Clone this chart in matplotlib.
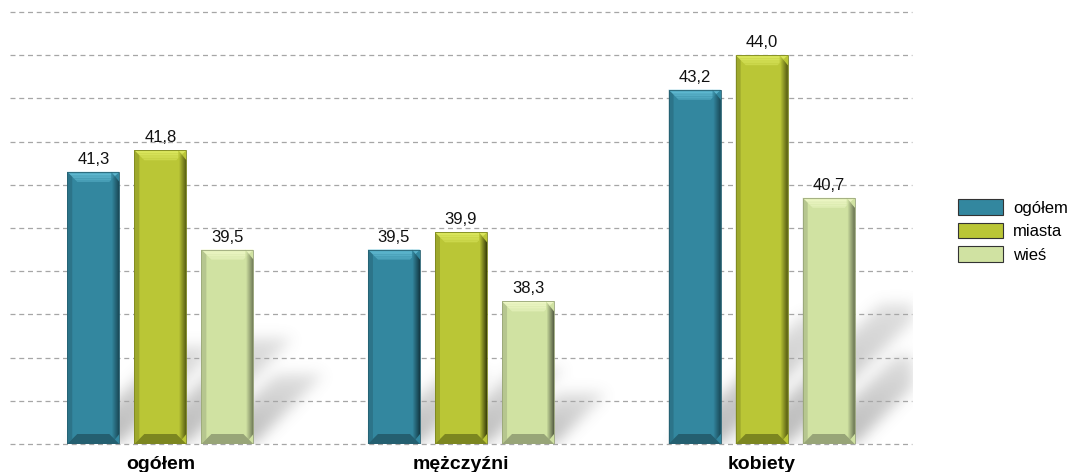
import matplotlib
matplotlib.use("Agg")
import matplotlib.pyplot as plt
import matplotlib.colors as mcolors
import numpy as np
from matplotlib.patches import Polygon, Patch
from matplotlib.path import Path

categories = ["ogółem", "mężczyźni", "kobiety"]
series_names = ["ogółem", "miasta", "wieś"]
ogolem = [41.3, 39.5, 43.2]
miasta = [41.8, 39.9, 44.0]
wies = [39.5, 38.3, 40.7]
series = [ogolem, miasta, wies]
colors = ["#33879F", "#BAC636", "#D0E2A2"]
light = ["#62BCD4", "#DCE860", "#EEF7C6"]
dark = ["#143A45", "#3F440A", "#565E44"]
mid_dark = ["#245F70", "#7C8620", "#98A578"]

W, H = 1078, 472
fig = plt.figure(figsize=(W / 100, H / 100), dpi=100)
ax_l, ax_r, ax_t, ax_b = 10, 912, 12, 444
AW, AH = ax_r - ax_l, ax_b - ax_t
ax = fig.add_axes([ax_l / W, 1 - ax_b / H, AW / W, AH / H])
ymin, ymax = 35, 45
xmin, xmax = -0.5, 2.5
ax.set_xlim(xmin, xmax)
ax.set_ylim(ymin, ymax)
for s in ax.spines.values():
    s.set_visible(False)
ax.set_yticks(np.arange(35, 45.1, 1))
ax.yaxis.grid(True, linestyle=(0, (4, 3)), color="#A6A6A6", linewidth=0.9, zorder=1)
ax.set_axisbelow(True)
ax.tick_params(axis="y", left=False, labelleft=False)
ax.tick_params(axis="x", bottom=False, pad=5)
x = np.arange(len(categories))
ax.set_xticks(x)
ax.set_xticklabels(categories, fontsize=14, fontweight="bold", family="Liberation Sans")

dx = (xmax - xmin) / AW
dy = (ymax - ymin) / AH

step = 0.223
width = 0.173
offsets = [-step, 0, step]

# ---- soft cast shadow (decoration derived from bar geometry) ----
gy, gx = np.mgrid[0:AH, 0:AW]
pts = np.column_stack([gx.ravel() + 0.5, gy.ravel() + 0.5])
mask = np.zeros(AH * AW)
for si, vals in enumerate(series):
    for xi, v in zip(x, vals):
        bx0 = (xi + offsets[si] - width / 2 - xmin) / dx
        bx1 = bx0 + width / dx
        hpx = (v - ymin) / dy
        hs = 0.36 * hpx
        sk = 1.0 * hs
        poly = Path([(bx0 + 4, 0), (bx1, 0), (bx1 + sk, hs), (bx0 + 4 + sk, hs)])
        inside = poly.contains_points(pts)
        fade = np.clip(1 - (pts[:, 1] / hs) * 0.55, 0, 1)
        mask = np.maximum(mask, inside * fade)
mask = mask.reshape(AH, AW)

def blur(a, sigma):
    r = int(3 * sigma)
    k = np.exp(-0.5 * (np.arange(-r, r + 1) / sigma) ** 2)
    k /= k.sum()
    a = np.apply_along_axis(lambda row: np.convolve(row, k, mode="same"), 1, a)
    a = np.apply_along_axis(lambda col: np.convolve(col, k, mode="same"), 0, a)
    return a

mask = blur(mask, 7)
rgba = np.zeros((AH, AW, 4))
rgba[..., :3] = 0.45
rgba[..., 3] = mask * 0.5
ax.imshow(rgba, extent=(xmin, xmax, ymin, ymax), origin="lower", aspect="auto",
          zorder=0.2, interpolation="bilinear")
ax.set_xlim(xmin, xmax)
ax.set_ylim(ymin, ymax)
for gl in ax.get_ygridlines():
    gl.set_clip_on(False)

bev = 10  # px
side = 8
for si, vals in enumerate(series):
    bars = ax.bar(x + offsets[si], vals, width=width, bottom=0, color=colors[si],
                  edgecolor="none", linewidth=0, zorder=3, label=series_names[si])
    for b, v in zip(bars, vals):
        bx0 = b.get_x()
        bx1 = bx0 + b.get_width()
        ytop = v
        yb = ymin
        bw = bev * dx
        bh = bev * dy
        n = 6
        for k in range(n):
            t = k / (n - 1)
            c = np.array(mcolors.to_rgb(light[si])) * (1 - 0.5 * t) + np.array(mcolors.to_rgb(colors[si])) * 0.5 * t
            f0, f1 = k / n, (k + 1) / n
            ax.add_patch(Polygon([(bx0 + bw * f0, ytop - bh * f0), (bx1 - bw * f0, ytop - bh * f0),
                                  (bx1 - bw * f1, ytop - bh * f1), (bx0 + bw * f1, ytop - bh * f1)],
                                 facecolor=c, edgecolor="none", zorder=4))
        n = 8
        for k in range(n):
            xa = bx1 - (k + 1) * dx * side / n
            xb = bx1 - k * dx * side / n
            t = k / (n - 1)
            c = np.array(mcolors.to_rgb(dark[si])) * (1 - t) + np.array(mcolors.to_rgb(colors[si])) * t
            ax.add_patch(Polygon([(xa, yb + bh * (1 - (k + 1) / n)), (xb, yb + bh * (1 - k / n)),
                                  (xb, ytop - bh * (1 - k / n)), (xa, ytop - bh * (1 - (k + 1) / n))],
                                 facecolor=c, edgecolor="none", zorder=4))
        ax.add_patch(Polygon([(bx0, ytop), (bx0 + bw * 0.5, ytop - bh * 0.5), (bx0 + bw * 0.5, yb + bh * 0.5), (bx0, yb)],
                             facecolor=mid_dark[si], edgecolor="none", alpha=0.45, zorder=4))
        ax.add_patch(Polygon([(bx0, yb), (bx1, yb), (bx1 - bw, yb + bh), (bx0 + bw, yb + bh)],
                             facecolor=mid_dark[si], edgecolor="none", zorder=4))
        ax.add_patch(Polygon([(bx0, yb), (bx1, yb), (bx1, ytop), (bx0, ytop)], fill=False,
                             edgecolor=mid_dark[si], linewidth=0.6, zorder=5))
        ax.text(bx0 + b.get_width() / 2, ytop + 5 * dy, f"{v:.1f}".replace(".", ","),
                ha="center", va="bottom", fontsize=12, family="Liberation Sans", color="#111111", zorder=6)

handles = [Patch(facecolor=colors[i], edgecolor="#333333", linewidth=0.8) for i in range(3)]
fig.legend(handles, series_names, loc="center left", bbox_to_anchor=(958 / W, 1 - 231 / H),
           frameon=False, prop={"family": "Liberation Sans", "size": 12},
           handlelength=2.7, handleheight=1.08, labelspacing=0.42, handletextpad=0.6, borderpad=0,
           borderaxespad=0)

fig.savefig("out.png", dpi=100)
